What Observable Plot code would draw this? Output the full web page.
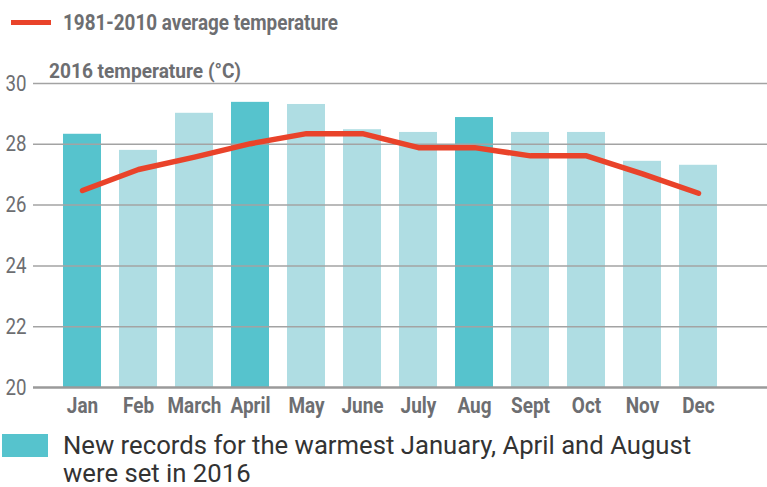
<!DOCTYPE html>
<html><head><meta charset="utf-8">
<script src="https://cdn.jsdelivr.net/npm/d3@7"></script>
<script src="https://cdn.jsdelivr.net/npm/@observablehq/plot@0.6"></script>
<style>
body{margin:0;background:#fff;}
#wrap{position:relative;width:767px;height:487px;overflow:hidden;}
#chart{position:absolute;left:0;top:0;}
.cond{font-family:Roboto,sans-serif;font-weight:bold;color:#6d6e71;position:absolute;white-space:nowrap;transform-origin:0 0;}
#lgline{position:absolute;left:11px;top:20px;width:40px;height:5px;background:#e9432a;}
#lgtext{left:63px;top:12px;font-size:22px;line-height:22px;}
#sub{left:49px;top:61px;font-size:21px;line-height:21px;}
#recsq{position:absolute;left:2px;top:434px;width:46px;height:23px;background:#56c3cd;}
#rectext{position:absolute;left:63px;top:431px;font-family:Roboto,sans-serif;font-size:25.7px;line-height:28px;color:#333;white-space:nowrap;}
</style></head><body>
<div id="wrap">
<div id="chart"></div>
<div id="lgline"></div>
<div id="lgtext" class="cond" data-w="275">1981-2010 average temperature</div>
<div id="sub" class="cond" data-w="192">2016 temperature (°C)</div>
<div id="recsq"></div>
<div id="rectext">New records for the warmest January, April and August<br>were set in 2016</div>
</div>
<script>
const months = ["Jan","Feb","March","April","May","June","July","Aug","Sept","Oct","Nov","Dec"];
const temp2016 = [28.33,27.8,29.02,29.38,29.31,28.48,28.39,28.88,28.39,28.39,27.44,27.31];
const avg8110 = [26.48,27.17,27.58,28.02,28.35,28.35,27.89,27.89,27.62,27.62,27.03,26.39];
const records = ["Jan","April","Aug"];
const yTicks = [20,22,24,26,28,30];

const data = months.map((m,i)=>({month:m,t2016:temp2016[i],avg:avg8110[i],record:records.includes(m)}));
const chart = Plot.plot({
  width:767,height:487,marginTop:83,marginBottom:100,marginLeft:33,marginRight:0,
  style:{fontFamily:"Roboto,sans-serif",background:"transparent",overflow:"visible"},
  x:{type:"band",domain:months,paddingInner:0.325,paddingOuter:0.685,align:0.376,label:null},
  y:{domain:[20,30],label:null},
  marks:[
    Plot.barY(data,{x:"month",y1:20,y2:"t2016",fill:d=>d.record?"#56c3cd":"#afdde3"}),
    Plot.ruleY(yTicks.filter(t=>t>20),{stroke:"#a3a3a3",strokeWidth:1.5}),
    Plot.ruleY([20],{stroke:"#9a9a9a",strokeWidth:2.5}),
    Plot.axisY(yTicks,{tickSize:0,tickPadding:7,fontSize:22,fill:"#6d6e71",label:null}),
    Plot.axisX({tickSize:0,tickPadding:10,fontSize:22.5,fontWeight:"bold",fill:"#6d6e71",label:null}),
    Plot.line(data,{x:"month",y:"avg",stroke:"#e9432a",strokeWidth:5.5,strokeLinecap:"round",strokeLinejoin:"round"})
  ]
});
document.getElementById("chart").appendChild(chart);

function squeeze(sel, k){
  chart.querySelectorAll(sel).forEach(t=>{
    t.setAttribute("transform",(t.getAttribute("transform")||"")+` scale(${k},1)`);
  });
}
const xLabels = [...chart.querySelectorAll('[aria-label="x-axis tick label"] text')];
const march = xLabels.find(t=>t.textContent==="March");
const kx = march ? 54/march.getBBox().width : 0.82;
squeeze('[aria-label="x-axis tick label"] text',kx);
squeeze('[aria-label="y-axis tick label"] text',0.85);

document.querySelectorAll(".cond").forEach(el=>{
  const w = el.getBoundingClientRect().width;
  el.style.transform = `scaleX(${(+el.dataset.w)/w})`;
});
</script>
</body></html>
